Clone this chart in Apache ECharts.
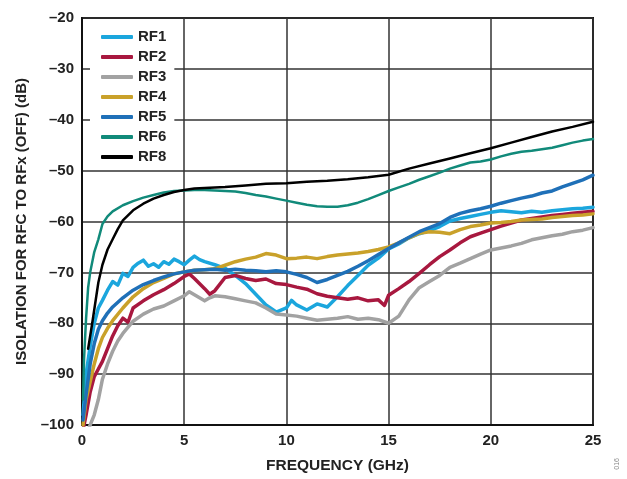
<!DOCTYPE html>
<html>
<head>
<meta charset="utf-8">
<script src="https://cdn.jsdelivr.net/npm/echarts@6/dist/echarts.min.js"></script>
<style>html,body{margin:0;padding:0;background:#fff}#chart{width:627px;height:479px}</style>
</head>
<body>
<div id="chart"></div>
<script>
// Frequency (GHz) and isolation (dB) per port
const rf1Freq = [0.05,0.2,0.4,0.6,0.8,1,1.25,1.5,1.75,2,2.25,2.5,2.75,3,3.25,3.5,3.75,4,4.25,4.5,4.75,5,5.25,5.5,5.75,6,6.5,7,7.5,8,8.5,9,9.5,10,10.25,10.5,11,11.5,12,12.5,13,13.5,14,14.5,15,15.5,16,16.5,17,17.5,18,18.5,19,19.5,20,20.5,21,21.5,22,22.5,23,23.5,24,24.5,25];
const rf1Iso  = [-98,-90,-84.5,-80,-77,-75.5,-73.5,-71.8,-72.5,-70.2,-70.8,-69,-68.2,-67.6,-68.8,-68.3,-69,-67.9,-68.4,-67.4,-67.9,-68.5,-67.6,-66.8,-67.5,-67.9,-68.5,-69.2,-70.6,-72.2,-74.3,-76.4,-77.8,-77,-75.5,-76.4,-77.4,-76.2,-76.8,-74.8,-72.6,-70.6,-68.6,-67.2,-65.4,-64.4,-63.2,-62.4,-61.8,-61,-59.9,-59.4,-59,-58.6,-58.2,-57.9,-58.1,-58.3,-58,-58.2,-57.9,-57.7,-57.5,-57.4,-57.2];

const rf2Freq = [0.05,0.2,0.4,0.6,0.8,1,1.25,1.5,1.75,2,2.25,2.5,3,3.5,4,4.5,5,5.25,5.5,6,6.25,6.5,7,7.5,8,8.5,9,9.5,10,10.5,11,11.5,12,12.5,13,13.5,14,14.5,14.8,15,15.5,16,16.5,17,17.5,18,18.5,19,19.5,20,20.5,21,21.5,22,22.5,23,23.5,24,24.5,25];
const rf2Iso  = [-101,-98,-93.5,-90.5,-89,-87.5,-85,-82.5,-80.5,-79,-79.8,-77,-75.6,-74.4,-73.4,-72.2,-70.8,-70.3,-71.2,-73.2,-74.3,-73.6,-71,-70.6,-71.2,-71.6,-71.3,-72.2,-72.4,-72.9,-73.3,-74.2,-74.7,-75,-75.3,-75,-75.6,-75.4,-76.5,-74.5,-73.2,-71.8,-70.2,-68.5,-66.9,-65.6,-64.2,-63,-62.3,-61.6,-60.9,-60.3,-59.7,-59.4,-59.1,-58.8,-58.6,-58.4,-58.2,-58];

const rf3Freq = [0.05,0.3,0.6,0.8,1,1.25,1.5,1.75,2,2.5,3,3.5,4,4.5,5,5.25,5.5,6,6.25,6.5,7,7.5,8,8.5,9,9.5,10,10.5,11,11.5,12,12.5,13,13.5,14,14.5,15,15.5,16,16.5,17,17.5,18,18.5,19,19.5,20,20.5,21,21.5,22,22.5,23,23.5,24,24.5,25];
const rf3Iso  = [-102,-101,-98,-95,-91,-88,-85.5,-83.5,-82,-79.6,-78.2,-77.2,-76.6,-75.6,-74.6,-73.8,-74.4,-75.6,-75,-74.6,-74.8,-75.2,-75.6,-76,-77,-78.2,-78.4,-78.6,-79,-79.4,-79.2,-79,-78.7,-79.2,-79,-79.3,-80,-78.6,-75.4,-73,-71.8,-70.6,-69,-68.2,-67.3,-66.4,-65.6,-65.2,-64.8,-64.3,-63.6,-63.2,-62.8,-62.5,-62,-61.7,-61.2];

const rf4Freq = [0.05,0.2,0.4,0.6,0.8,1,1.25,1.5,2,2.5,3,3.5,4,4.5,5,5.5,6,6.5,7,7.5,8,8.5,9,9.5,10,10.5,11,11.5,12,12.5,13,13.5,14,14.5,15,15.5,16,16.5,17,17.5,18,18.5,19,19.5,20,20.5,21,21.5,22,22.5,23,23.5,24,24.5,25];
const rf4Iso  = [-100,-95,-91.5,-88,-85,-82.8,-81,-79.5,-77,-74.8,-73.2,-72,-71.2,-70.3,-69.9,-69.6,-69.5,-69.3,-68.6,-67.9,-67.4,-67,-66.3,-66.6,-67.3,-67.2,-67,-67.3,-66.9,-66.6,-66.4,-66.2,-65.9,-65.5,-65,-64.2,-63.2,-62.3,-62,-62.1,-62.4,-61.6,-61,-60.7,-60.3,-60.2,-60,-59.7,-59.6,-59.5,-59.2,-59,-58.8,-58.7,-58.5];

const rf5Freq = [0.05,0.2,0.4,0.6,0.8,1,1.25,1.5,2,2.5,3,3.5,4,4.5,5,5.5,6,6.5,7,7.5,8,8.5,9,9.5,10,10.5,11,11.5,12,12.5,13,13.5,14,14.5,15,15.5,16,16.5,17,17.5,18,18.5,19,19.5,20,20.5,21,21.5,22,22.5,23,23.5,24,24.5,25];
const rf5Iso  = [-99,-94,-88,-84,-81.2,-79.5,-78,-76.8,-75,-73.5,-72.4,-71.6,-70.9,-70.3,-69.9,-69.6,-69.5,-69.4,-69.6,-69.4,-69.6,-69.7,-69.9,-69.7,-69.9,-70.4,-71,-72,-71.4,-70.6,-69.8,-68.8,-67.7,-66.5,-65.3,-64.2,-63.1,-62,-61.2,-60.4,-59.2,-58.4,-57.9,-57.5,-57,-56.4,-55.9,-55.4,-55,-54.4,-54,-53.2,-52.5,-51.8,-50.9];

const rf6Freq = [0.05,0.1,0.2,0.3,0.4,0.6,0.8,1,1.25,1.5,2,2.5,3,3.5,4,4.5,5,5.5,6,6.5,7,7.5,8,8.5,9,9.5,10,10.5,11,11.5,12,12.5,13,13.5,14,14.5,15,15.5,16,16.5,17,17.5,18,18.5,19,19.5,20,20.5,21,21.5,22,22.5,23,23.5,24,24.5,25];
const rf6Iso  = [-95,-87,-79,-73,-70,-66,-63.5,-60.5,-59,-58,-56.8,-56,-55.3,-54.8,-54.3,-54,-53.9,-53.8,-53.8,-53.9,-54,-54.1,-54.4,-54.8,-55.1,-55.5,-55.9,-56.3,-56.7,-57,-57.1,-57.1,-56.8,-56.3,-55.6,-54.8,-54,-53.3,-52.6,-51.8,-51.1,-50.4,-49.6,-49,-48.4,-48.2,-47.8,-47.2,-46.7,-46.3,-46.1,-45.8,-45.5,-45,-44.5,-44.1,-43.8];

const rf8Freq = [0.3,0.5,0.8,1,1.25,1.5,1.75,2,2.5,3,3.5,4,4.5,5,5.5,6,7,8,9,10,11,12,13,14,15,16,17,18,19,20,21,22,23,24,25];
const rf8Iso  = [-85,-80,-72,-68.5,-65.5,-63.5,-61.5,-59.8,-57.8,-56.5,-55.5,-54.8,-54.2,-53.8,-53.5,-53.4,-53.2,-52.9,-52.6,-52.5,-52.2,-52,-51.7,-51.3,-50.8,-49.6,-48.6,-47.6,-46.6,-45.6,-44.5,-43.4,-42.3,-41.4,-40.4];

const xTicks = [0, 5, 10, 15, 20, 25];
const yTicks = [-100, -90, -80, -70, -60, -50, -40, -30, -20];

const seriesDefs = [
  {name: 'RF1', f: rf1Freq, v: rf1Iso, color: '#1ba6dd', w: 3.5},
  {name: 'RF2', f: rf2Freq, v: rf2Iso, color: '#a8183f', w: 3.5},
  {name: 'RF3', f: rf3Freq, v: rf3Iso, color: '#a2a2a2', w: 3.5},
  {name: 'RF4', f: rf4Freq, v: rf4Iso, color: '#c9a12a', w: 3.5},
  {name: 'RF5', f: rf5Freq, v: rf5Iso, color: '#1f70b8', w: 3.5},
  {name: 'RF6', f: rf6Freq, v: rf6Iso, color: '#118a7a', w: 2.5},
  {name: 'RF8', f: rf8Freq, v: rf8Iso, color: '#000000', w: 2.5}
];

const font = 'Arial, "Liberation Sans", Helvetica, sans-serif';
const chart = echarts.init(document.getElementById('chart'), null, {renderer: 'canvas'});
const dash = v => (v < 0 ? '\u2013' + Math.abs(v) : String(v));

chart.setOption({
  animation: false,
  backgroundColor: '#fff',
  grid: {left: 82, right: 34, top: 18, bottom: 53, show: true, borderColor: '#111', borderWidth: 2, backgroundColor: 'transparent'},
  legend: {
    orient: 'vertical', left: 90, top: 24,
    padding: [5, 8, 5, 11],
    backgroundColor: '#fff',
    itemWidth: 32, itemHeight: 4, itemGap: 4,
    icon: 'roundRect',
    textStyle: {fontFamily: font, fontWeight: 'bold', fontSize: 15, color: '#222', lineHeight: 16},
    data: seriesDefs.map(s => s.name)
  },
  xAxis: {
    type: 'value', min: xTicks[0], max: xTicks[xTicks.length - 1], interval: 5,
    name: 'FREQUENCY (GHz)', nameLocation: 'middle', nameGap: 33,
    nameTextStyle: {fontFamily: font, fontWeight: 'bold', fontSize: 15.5, color: '#222'},
    axisLine: {show: true, lineStyle: {color: '#111', width: 2}},
    axisTick: {show: false},
    axisLabel: {fontFamily: font, fontWeight: 'bold', fontSize: 15, color: '#222', margin: 8},
    splitLine: {show: true, lineStyle: {color: '#333', width: 1.5}}
  },
  yAxis: {
    type: 'value', min: yTicks[0], max: yTicks[yTicks.length - 1], interval: 10,
    name: 'ISOLATION FOR RFC TO RFx (OFF) (dB)', nameLocation: 'middle', nameGap: 52,
    nameTextStyle: {fontFamily: font, fontWeight: 'bold', fontSize: 15, color: '#222'},
    axisLine: {show: true, lineStyle: {color: '#111', width: 2}},
    axisTick: {show: false},
    axisLabel: {fontFamily: font, fontWeight: 'bold', fontSize: 15, color: '#222', margin: 8, formatter: dash},
    splitLine: {show: true, lineStyle: {color: '#333', width: 1.5}}
  },
  graphic: [{
    type: 'text', left: 614, top: 458, rotation: Math.PI / 2,
    style: {text: '016', fontSize: 7, fill: '#888', fontFamily: font}
  }],
  series: seriesDefs.map(s => ({
    name: s.name, type: 'line', showSymbol: false, symbol: 'none',
    clip: true, smooth: false,
    data: s.f.map((x, i) => [x, s.v[i]]),
    lineStyle: {color: s.color, width: s.w, cap: 'round', join: 'round'},
    itemStyle: {color: s.color},
    emphasis: {disabled: true}
  }))
});
</script>
</body>
</html>
